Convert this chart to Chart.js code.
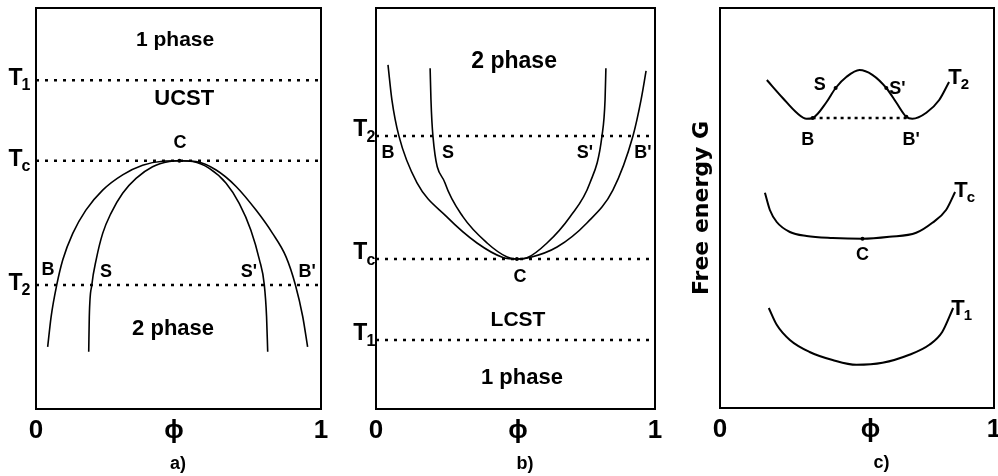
<!DOCTYPE html>
<html>
<head>
<meta charset="utf-8">
<script src="https://cdn.jsdelivr.net/npm/chart.js@4.4.1/dist/chart.umd.min.js"></script>
<style>
  body { margin: 0; background: #fff; }
  #wrap { position: relative; width: 998px; height: 476px; overflow: hidden; }
  canvas { position: absolute; top: 0; }
</style>
</head>
<body>
<div id="wrap">
  <canvas id="chartA" width="330" height="476" style="left:0px"></canvas>
  <canvas id="chartB" width="335" height="476" style="left:330px"></canvas>
  <canvas id="chartC" width="333" height="476" style="left:665px"></canvas>
</div>
<script>
// --- datos (fracción de volumen phi, temperatura / energía libre normalizadas) ---

// panel a) UCST
const levelsA = [0.82, 0.619, 0.309];          // T1, Tc, T2
const levelSubsA = ['1', 'c', '2'];
const binodalAx = [0.041, 0.053, 0.073, 0.094, 0.129, 0.175, 0.234, 0.304, 0.374, 0.444, 0.503, 0.561, 0.632, 0.702, 0.772, 0.830, 0.877, 0.910, 0.936, 0.953];
const binodalAy = [0.155, 0.230, 0.310, 0.372, 0.438, 0.496, 0.546, 0.584, 0.608, 0.618, 0.619, 0.617, 0.596, 0.555, 0.496, 0.438, 0.380, 0.310, 0.230, 0.155];
const spinodalAx = [0.185, 0.187, 0.196, 0.211, 0.234, 0.263, 0.304, 0.351, 0.409, 0.468, 0.503, 0.550, 0.608, 0.667, 0.713, 0.754, 0.784, 0.801, 0.809, 0.813];
const spinodalAy = [0.143, 0.230, 0.310, 0.372, 0.438, 0.488, 0.538, 0.575, 0.604, 0.617, 0.619, 0.617, 0.600, 0.563, 0.513, 0.446, 0.372, 0.310, 0.230, 0.143];
const xTicksA = [0, 0.484, 1];

// panel b) LCST
const levelsB = [0.681, 0.374, 0.172];         // T2, Tc, T1
const levelSubsB = ['2', 'c', '1'];
const binodalBx = [0.043, 0.057, 0.082, 0.147, 0.254, 0.362, 0.455, 0.505, 0.552, 0.649, 0.756, 0.849, 0.921, 0.950, 0.968];
const binodalBy = [0.858, 0.771, 0.681, 0.564, 0.479, 0.414, 0.378, 0.374, 0.378, 0.404, 0.464, 0.546, 0.681, 0.771, 0.843];
const spinodalBx = [0.194, 0.197, 0.204, 0.247, 0.312, 0.398, 0.470, 0.505, 0.541, 0.613, 0.695, 0.767, 0.810, 0.821, 0.824];
const spinodalBy = [0.850, 0.771, 0.681, 0.564, 0.479, 0.414, 0.379, 0.374, 0.377, 0.414, 0.479, 0.564, 0.681, 0.771, 0.850];
const xTicksB = [0, 0.509, 1];

// panel c) energía libre G(phi) a T2, Tc y T1
const gT2x = [0.171, 0.229, 0.280, 0.316, 0.338, 0.389, 0.422, 0.462, 0.509, 0.556, 0.607, 0.644, 0.680, 0.702, 0.753, 0.800, 0.836];
const gT2y = [0.820, 0.775, 0.738, 0.723, 0.725, 0.765, 0.800, 0.828, 0.845, 0.833, 0.800, 0.763, 0.728, 0.723, 0.738, 0.770, 0.815];
const gTcx = [0.164, 0.182, 0.207, 0.255, 0.316, 0.411, 0.520, 0.618, 0.716, 0.775, 0.825, 0.858];
const gTcy = [0.538, 0.495, 0.465, 0.440, 0.430, 0.425, 0.423, 0.428, 0.438, 0.463, 0.495, 0.540];
const gT1x = [0.178, 0.207, 0.255, 0.327, 0.411, 0.498, 0.593, 0.691, 0.764, 0.811, 0.851];
const gT1y = [0.250, 0.208, 0.170, 0.140, 0.120, 0.108, 0.113, 0.133, 0.158, 0.190, 0.250];
const tieLineCx = [0.338, 0.680];               // B - B'
const tieLineCy = [0.725, 0.725];
const pointsCx = [0.338, 0.422, 0.607, 0.680, 0.520];   // B, S, S', B', C
const pointsCy = [0.725, 0.800, 0.800, 0.728, 0.423];
const xTicksC = [0, 0.549, 1];

const xTickLabels = ['0', '\u03D5', '1'];

const FAMILY = "'Liberation Sans', Arial, sans-serif";
Chart.defaults.font.family = FAMILY;
Chart.defaults.font.weight = 'bold';
Chart.defaults.color = '#000';

function pts(xs, ys) {
    return xs.map((x, i) => ({ x: x, y: ys[i] }));
}

// curva suave negra
function curve(xs, ys, width) {
    return {
        data: pts(xs, ys), showLine: true, borderColor: '#000', borderWidth: width,
        pointRadius: 0, cubicInterpolationMode: 'monotone', fill: false
    };
}

// línea punteada horizontal
function dotted(xs, ys, dash) {
    return {
        data: pts(xs, ys), showLine: true, borderColor: '#000', borderWidth: 2.5,
        borderDash: dash, borderCapStyle: 'butt', pointRadius: 0, tension: 0, fill: false
    };
}

function marks(xs, ys) {
    return { data: pts(xs, ys), showLine: false, pointRadius: 2, pointBackgroundColor: '#000', pointBorderWidth: 0 };
}

// plugin para el marco y los textos (con subíndices)
const textPlugin = {
    id: 'texts',
    afterDraw(chart, args, opts) {
        const { ctx, chartArea, scales } = chart;
        ctx.save();
        ctx.strokeStyle = '#000';
        ctx.lineWidth = 2;
        ctx.strokeRect(chartArea.left, chartArea.top, chartArea.width, chartArea.height);
        ctx.fillStyle = '#000';
        ctx.textBaseline = 'middle';
        ctx.textAlign = 'left';
        (opts.items || []).forEach(t => {
            const px = scales.x.getPixelForValue(t.x);
            const py = scales.y.getPixelForValue(t.y);
            const size = t.size || 18;
            const mainFont = 'bold ' + size + 'px ' + FAMILY;
            const subFont = 'bold ' + Math.round(size * 0.68) + 'px ' + FAMILY;
            ctx.font = mainFont;
            const w1 = ctx.measureText(t.text).width;
            let w2 = 0;
            if (t.sub) {
                ctx.font = subFont;
                w2 = ctx.measureText(t.sub).width;
            }
            const left = px - (w1 + w2) / 2;
            ctx.font = mainFont;
            ctx.fillText(t.text, left, py);
            if (t.sub) {
                ctx.font = subFont;
                ctx.fillText(t.sub, left + w1 - 1, py + size * 0.32);
            }
        });
        ctx.restore();
    }
};

function makeChart(id, cfg) {
    return new Chart(document.getElementById(id), {
        type: 'scatter',
        data: { datasets: cfg.datasets },
        options: {
            responsive: false,
            animation: false,
            layout: { padding: { top: 8, right: cfg.padRight, left: 0, bottom: 0 } },
            plugins: {
                legend: { display: false },
                tooltip: { enabled: false },
                texts: { items: cfg.texts }
            },
            scales: {
                x: {
                    type: 'linear', min: 0, max: 1,
                    grid: { display: false, drawTicks: false },
                    border: { display: false },
                    afterBuildTicks: s => { s.ticks = cfg.xTicks.map(v => ({ value: v })); },
                    afterFit: s => { s.height = cfg.xHeight; s.paddingLeft = 0; s.paddingRight = 0; },
                    ticks: {
                        font: { size: 26, weight: 'bold' }, padding: 6, maxRotation: 0, autoSkip: false,
                        callback: (v, i) => xTickLabels[i]
                    }
                },
                y: {
                    type: 'linear', min: 0, max: 1,
                    grid: { display: false, drawTicks: false },
                    border: { display: false },
                    ticks: { display: false },
                    afterFit: s => { s.width = cfg.yWidth; },
                    title: cfg.yTitle || { display: false }
                }
            }
        },
        plugins: [textPlugin]
    });
}

// etiquetas T a la izquierda del marco
function levelLabels(levels, subs, xPos, lift) {
    return levels.map((lv, i) => ({ text: 'T', sub: subs[i], x: xPos, y: lv + lift, size: 23 }));
}

// a)
makeChart('chartA', {
    yWidth: 36, padRight: 9, xHeight: 67, xTicks: xTicksA,
    datasets: [
        ...levelsA.map(lv => dotted([0, 1], [lv, lv], [3, 6])),
        curve(binodalAx, binodalAy, 1.6),
        curve(spinodalAx, spinodalAy, 1.6),
        marks([0.503], [0.619])
    ],
    texts: [
        ...levelLabels(levelsA, levelSubsA, -0.056, 0.004),
        { text: '1 phase', x: 0.488, y: 0.92, size: 21 },
        { text: 'UCST', x: 0.52, y: 0.773, size: 22 },
        { text: 'C', x: 0.505, y: 0.663 },
        { text: 'B', x: 0.042, y: 0.347 },
        { text: 'S', x: 0.246, y: 0.342 },
        { text: "S'", x: 0.747, y: 0.342 },
        { text: "B'", x: 0.951, y: 0.342 },
        { text: '2 phase', x: 0.481, y: 0.2, size: 22 },
        { text: 'a)', x: 0.498, y: -0.137 }
    ]
});

// b)
makeChart('chartB', {
    yWidth: 46, padRight: 10, xHeight: 67, xTicks: xTicksB,
    datasets: [
        ...levelsB.map(lv => dotted([0, 1], [lv, lv], [3, 6])),
        curve(binodalBx, binodalBy, 1.6),
        curve(spinodalBx, spinodalBy, 1.6),
        marks([0.505], [0.374])
    ],
    texts: [
        ...levelLabels(levelsB, levelSubsB, -0.04, 0.015),
        { text: '2 phase', x: 0.495, y: 0.865, size: 23 },
        { text: 'B', x: 0.043, y: 0.638 },
        { text: 'S', x: 0.258, y: 0.638 },
        { text: "S'", x: 0.749, y: 0.638 },
        { text: "B'", x: 0.957, y: 0.638 },
        { text: 'C', x: 0.516, y: 0.329 },
        { text: 'LCST', x: 0.509, y: 0.222, size: 21 },
        { text: '1 phase', x: 0.523, y: 0.077, size: 22 },
        { text: 'b)', x: 0.534, y: -0.137 }
    ]
});

// c)
makeChart('chartC', {
    yWidth: 55, padRight: 3, xHeight: 68, xTicks: xTicksC,
    yTitle: {
        display: true, text: 'Free energy G', color: '#000',
        font: { family: "'DejaVu Sans', sans-serif", size: 22, weight: 'bold' },
        padding: { top: 24, bottom: 0 }
    },
    datasets: [
        dotted(tieLineCx, tieLineCy, [3, 4]),
        curve(gT2x, gT2y, 2),
        curve(gTcx, gTcy, 2),
        curve(gT1x, gT1y, 2),
        marks(pointsCx, pointsCy)
    ],
    texts: [
        { text: 'S', x: 0.364, y: 0.808 },
        { text: "S'", x: 0.647, y: 0.798 },
        { text: 'B', x: 0.32, y: 0.67 },
        { text: "B'", x: 0.698, y: 0.67 },
        { text: 'C', x: 0.52, y: 0.383 },
        { text: 'T', sub: '2', x: 0.873, y: 0.825, size: 22 },
        { text: 'T', sub: 'c', x: 0.895, y: 0.543, size: 22 },
        { text: 'T', sub: '1', x: 0.884, y: 0.248, size: 22 },
        { text: 'c)', x: 0.589, y: -0.1375 }
    ]
});
</script>
</body>
</html>
